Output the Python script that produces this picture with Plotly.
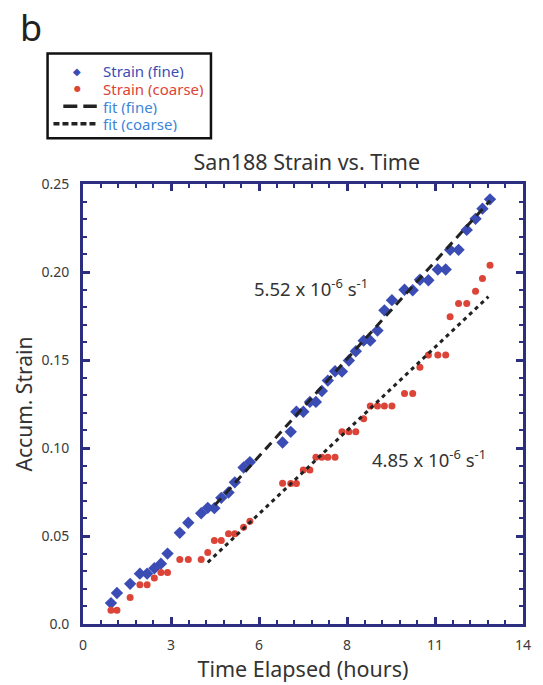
import plotly.graph_objects as go

# Time (hours), shared by both series
time_h = [0.89, 1.08, 1.50, 1.81, 2.04, 2.27, 2.48, 2.69, 3.08, 3.35,
          3.76, 3.97, 4.18, 4.40, 4.63, 4.83, 5.11, 5.31, 6.35, 6.61,
          6.79, 7.01, 7.22, 7.41, 7.60, 7.79, 8.02, 8.24, 8.46, 8.68,
          8.93, 9.14, 9.37, 9.59, 9.83, 10.23, 10.49, 10.72, 10.99, 11.29,
          11.54, 11.68, 11.95, 12.21, 12.49, 12.71, 12.95]

strain_fine = [0.0119, 0.0176, 0.0228, 0.0286, 0.0286, 0.0317, 0.0343, 0.0400, 0.0518, 0.0575,
               0.0629, 0.0660, 0.0658, 0.0717, 0.0747, 0.0805, 0.0889, 0.0920, 0.1031, 0.1092,
               0.1206, 0.1206, 0.1262, 0.1262, 0.1324, 0.1383, 0.1436, 0.1434, 0.1497, 0.1550,
               0.1610, 0.1610, 0.1667, 0.1782, 0.1840, 0.1899, 0.1896, 0.1956, 0.1953, 0.2014,
               0.2014, 0.2126, 0.2126, 0.2239, 0.2302, 0.2360, 0.2413]

strain_coarse = [0.0078, 0.0078, 0.0151, 0.0223, 0.0223, 0.0261, 0.0293, 0.0293, 0.0367, 0.0367,
                 0.0367, 0.0406, 0.0474, 0.0474, 0.0513, 0.0513, 0.0550, 0.0584, 0.0800, 0.0799,
                 0.0799, 0.0875, 0.0875, 0.0947, 0.0947, 0.0947, 0.0947, 0.1092, 0.1092, 0.1092,
                 0.1166, 0.1239, 0.1239, 0.1239, 0.1239, 0.1310, 0.1310, 0.1459, 0.1529, 0.1529,
                 0.1529, 0.1746, 0.1821, 0.1821, 0.1891, 0.1963, 0.2039]

fit_fine_t = [4.2, 12.95]
fit_fine_y = [0.0676, 0.2405]
fit_coarse_t = [3.97, 12.9]
fit_coarse_y = [0.0350, 0.1860]

x_tickvals = [0, 2.8, 5.6, 8.4, 11.2, 14]
x_ticktext = ["0", "3", "6", "8", "11", "14"]
y_tickvals = [0, 0.05, 0.10, 0.15, 0.20, 0.25]
y_ticktext = ["0.0", "0.05", "0.10", "0.15", "0.20", "0.25"]

legend_labels = ["Strain (fine)", "Strain (coarse)", "fit (fine)", "fit (coarse)"]

BLUE = "#3b4db5"
RED = "#dc4438"
LBLUE = "#3d86d8"
NAVY = "#2c2f80"
FONT = "Noto Sans"

# figure geometry (pixels) used to place the hand-drawn legend in paper coordinates
W, H = 543, 685
ML, MR, MT, MB = 83, 13, 184, 59
PW, PH = W - ML - MR, H - MT - MB


def px(xp):
    return (xp - ML) / PW


def py(yp):
    return (H - MB - yp) / PH


fig = go.Figure()
fig.add_trace(go.Scatter(
    x=time_h, y=strain_fine, mode="markers", name=legend_labels[0],
    marker=dict(symbol="diamond", size=9.5, color=BLUE)))
fig.add_trace(go.Scatter(
    x=time_h, y=strain_coarse, mode="markers", name=legend_labels[1],
    marker=dict(symbol="circle", size=7, color=RED)))
fig.add_trace(go.Scatter(
    x=fit_fine_t, y=fit_fine_y, mode="lines", name=legend_labels[2],
    line=dict(color="#222222", width=3, dash="9px,6px")))
fig.add_trace(go.Scatter(
    x=fit_coarse_t, y=fit_coarse_y, mode="lines", name=legend_labels[3],
    line=dict(color="#222222", width=3, dash="4px,4px")))

axis_common = dict(
    showline=True, linecolor=NAVY, linewidth=3, mirror="allticks",
    ticks="inside", tickcolor=NAVY, ticklen=7, tickwidth=2.5,
    showgrid=False, zeroline=False,
    tickfont=dict(family=FONT, size=14, color="#3a3a3a"),
)

fig.update_xaxes(
    range=[0, 14], tickmode="array", tickvals=x_tickvals, ticktext=x_ticktext,
    minor=dict(dtick=0.56, tick0=0, ticks="inside", ticklen=4, tickwidth=2, tickcolor=NAVY),
    title=dict(text="Time Elapsed (hours)", font=dict(family=FONT, size=21.5, color="#333333"), standoff=4),
    ticklabelstandoff=6,
    **axis_common)
fig.update_yaxes(
    range=[0, 0.25], tickmode="array", tickvals=y_tickvals, ticktext=y_ticktext,
    minor=dict(dtick=0.01, tick0=0, ticks="inside", ticklen=4, tickwidth=2, tickcolor=NAVY),
    title=dict(text="Accum. Strain", font=dict(family=FONT, size=21, color="#333333"), standoff=4),
    ticklabelstandoff=8,
    **axis_common)

fig.add_annotation(x=7.25, y=0.191, xref="x", yref="y", showarrow=False,
                   text="5.52 x 10<sup>-6</sup> s<sup>-1</sup>",
                   font=dict(family=FONT, size=18.5, color="#333333"))
fig.add_annotation(x=11.0, y=0.094, xref="x", yref="y", showarrow=False,
                   text="4.85 x 10<sup>-6</sup> s<sup>-1</sup>",
                   font=dict(family=FONT, size=18.5, color="#333333"))
fig.add_annotation(x=px(30), y=py(27), xref="paper", yref="paper",
                   showarrow=False, xanchor="center", yanchor="middle",
                   text="b", font=dict(family=FONT, size=36, color="#222222"))

# ---- hand-drawn legend (box, symbols, coloured labels) ----
fig.add_shape(type="rect", xref="paper", yref="paper",
              x0=px(47), x1=px(213), y0=py(138), y1=py(53),
              line=dict(color="#111111", width=2.5), fillcolor="white", layer="above")
row_y = [70, 88, 106, 123.5]
label_colors = [BLUE, RED, LBLUE, LBLUE]
for yp, lab, col in zip(row_y, legend_labels, label_colors):
    fig.add_annotation(x=px(101), y=py(yp), xref="paper", yref="paper", showarrow=False,
                       xanchor="left", yanchor="middle", text=lab, height=17,
                       font=dict(family=FONT, size=15, color=col))
fig.add_annotation(x=px(77), y=py(row_y[0]), xref="paper", yref="paper", showarrow=False,
                   xanchor="center", yanchor="middle", text="◆", height=14,
                   font=dict(family="DejaVu Sans", size=10, color=BLUE))
fig.add_annotation(x=px(77), y=py(row_y[1]), xref="paper", yref="paper", showarrow=False,
                   xanchor="center", yanchor="middle", text="●", height=14,
                   font=dict(family="DejaVu Sans", size=8, color=RED))
fig.add_shape(type="line", xref="paper", yref="paper",
              x0=px(63), x1=px(97), y0=py(row_y[2]), y1=py(row_y[2]),
              line=dict(color="#222222", width=3.5, dash="14px,6px"))
fig.add_shape(type="line", xref="paper", yref="paper",
              x0=px(53), x1=px(97), y0=py(row_y[3]), y1=py(row_y[3]),
              line=dict(color="#222222", width=3.5, dash="6px,3px"))

fig.update_layout(
    width=W, height=H,
    margin=dict(l=ML, r=MR, t=MT, b=MB),
    paper_bgcolor="white", plot_bgcolor="white",
    title=dict(text="San188 Strain vs. Time", x=0.565, xanchor="center",
               y=1 - 162 / H, yanchor="middle",
               font=dict(family=FONT, size=21.5, color="#333333")),
    showlegend=False,
)

fig.write_html("out.html")
